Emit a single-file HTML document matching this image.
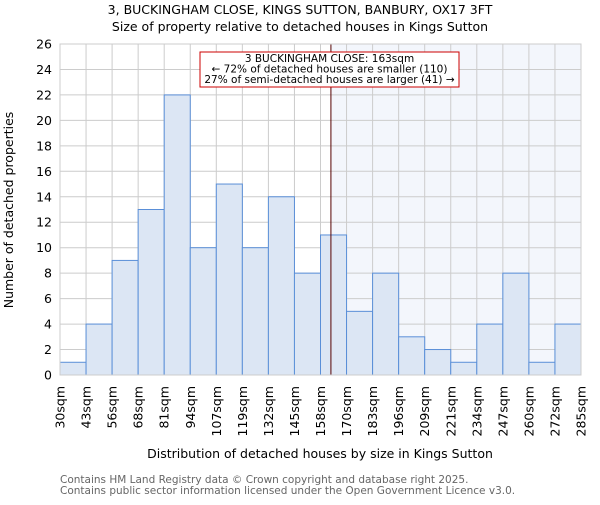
<!DOCTYPE html>
<html><head><meta charset="utf-8"><style>body{margin:0;background:#fff}svg{font-family:"DejaVu Sans","Liberation Sans",sans-serif}</style></head>
<body>
<svg id="chart" width="600" height="500" xmlns="http://www.w3.org/2000/svg">
<text x="300" y="14" font-size="12.5" text-anchor="middle">3, BUCKINGHAM CLOSE, KINGS SUTTON, BANBURY, OX17 3FT</text>
<text x="300" y="31" font-size="12.5" text-anchor="middle">Size of property relative to detached houses in Kings Sutton</text>
<g id="plot"></g>
<text x="320" y="458" font-size="12.5" text-anchor="middle">Distribution of detached houses by size in Kings Sutton</text>
<text transform="translate(13,210) rotate(-90)" font-size="12.5" text-anchor="middle">Number of detached properties</text>
<text x="60" y="483" font-size="10.5" fill="#666">Contains HM Land Registry data © Crown copyright and database right 2025.</text>
<text x="60" y="494" font-size="10.5" fill="#666">Contains public sector information licensed under the Open Government Licence v3.0.</text>
</svg>
<script>
const categories=["30sqm","43sqm","56sqm","68sqm","81sqm","94sqm","107sqm","119sqm","132sqm","145sqm","158sqm","170sqm","183sqm","196sqm","209sqm","221sqm","234sqm","247sqm","260sqm","272sqm","285sqm"];
const counts=[1,4,9,13,22,10,15,10,14,8,11,5,8,3,2,1,4,8,1,4];
const yTicks=[0,2,4,6,8,10,12,14,16,18,20,22,24,26];
const markerBin=10.4;
const NS="http://www.w3.org/2000/svg";
const L=60,R=581,T=44,B=375,yMax=26;
const bw=(R-L)/counts.length;
const xS=i=>L+i*bw;
const yS=v=>B-(v/yMax)*(B-T);
const g=document.getElementById('plot');
function mk(t,a){const e=document.createElementNS(NS,t);for(const k in a)e.setAttribute(k,a[k]);g.appendChild(e);return e;}
const mx=xS(markerBin);
let e=mk('rect',{x:mx,y:T,width:R-mx,height:B-T,fill:'#f3f6fc'});


yTicks.forEach(v=>{
 let l=mk('line',{x1:L,x2:R,y1:yS(v),y2:yS(v),stroke:'#cccccc','stroke-width':1});
 
 
 let t=mk('text',{x:L-8,y:yS(v)+4.5,'font-size':12.5,'text-anchor':'end'});
 t.textContent=v;
 
 
});
categories.forEach((c,i)=>{
 let l=mk('line',{x1:xS(i),x2:xS(i),y1:T,y2:B,stroke:'#cccccc','stroke-width':1});
 
 
 let x=xS(i)+4.5,y=386;
 let t=mk('text',{x:x,y:y,transform:`rotate(-90 ${x} ${y})`,'font-size':12.5,'text-anchor':'end'});
 t.textContent=c;
 
 
});
counts.forEach((v,i)=>{
 let r=mk('rect',{x:xS(i),y:yS(v),width:bw,height:B-yS(v),fill:'#dce6f4',stroke:'#5a8fd8','stroke-width':1});
 
 
});
e=mk('line',{x1:mx,x2:mx,y1:T,y2:B,stroke:'#550000','stroke-width':1});


e=mk('rect',{x:200,y:52,width:259,height:35,fill:'#fff',stroke:'#cc0000','stroke-width':1});


["3 BUCKINGHAM CLOSE: 163sqm","← 72% of detached houses are smaller (110)","27% of semi-detached houses are larger (41) →"].forEach((s,k)=>{
 let t=mk('text',{x:329.5,y:62+k*10.5,'font-size':10.5,'text-anchor':'middle'});
 t.textContent=s;
 
 
});
e=mk('rect',{x:L,y:T,width:R-L,height:B-T,fill:'none',stroke:'#cccccc'});


</script>
</body></html>
